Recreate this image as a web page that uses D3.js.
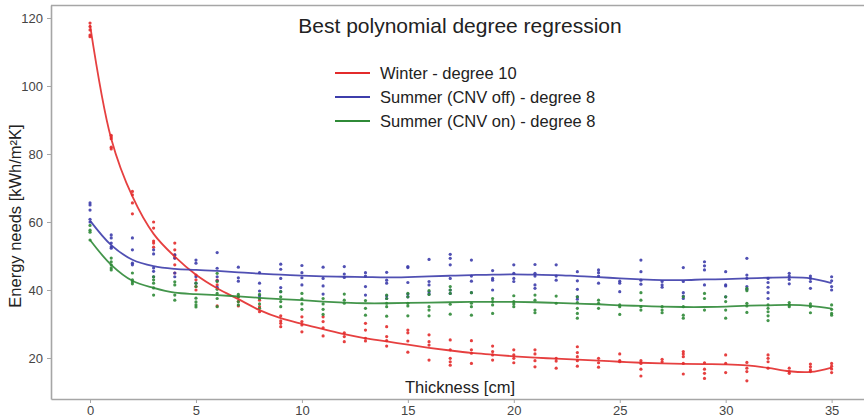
<!DOCTYPE html>
<html><head><meta charset="utf-8">
<script src="https://cdn.jsdelivr.net/npm/d3@7"></script>
<style>
html,body{margin:0;padding:0;background:#fff;}
svg{display:block;font-family:"Liberation Sans",Arial,sans-serif;}
</style></head>
<body>
<svg id="chart" width="864" height="419"></svg>
<script>
const thickness = d3.range(0, 36);
const xTicks = [0, 5, 10, 15, 20, 25, 30, 35];
const yTicks = [20, 40, 60, 80, 100, 120];
const seriesNames = ["Winter - degree 10", "Summer (CNV off) - degree 8", "Summer (CNV on) - degree 8"];
const seriesColors = ["#e32b2b", "#3d3dab", "#2f8a37"];

const winterPts = [
 [118.5,117.5,116.5,115,114.5],[85.5,85,84.5,82,81.5],[69,68,65.6,62.4],[60,58.2,54.4,53.8,52.6],
 [53.8,51.8,50.3,49.4,47.4,45],[44.4,43,41,40],[42.9,41.5,35.3],[38,36.6,35.3],[37,35.1,33.6],
 [32.4,30.9,30.2,29.2],[32.1,30.7,29.7,27.7],[32.1,30.7,28.9,26.5],[27.4,26.3,24.8],[30.2,28.2,25.8,25],
 [29.2,26.3,25.1,23.5],[28.2,27.4,25,21.7],[26.8,24.8,23.8,19.4],[25.3,22.4,19.9,18.9,17.9],
 [25.1,22.4,21.4,18.4],[23.5,21.9,20.9,19.4],[22.4,20.9,19.9,18.6],[22.4,21.2,19.2,17.4],[19.9,19.1,17],
 [23.3,21.6,20.4,19.2,17.6],[19.9,18.6,17.3],[21.2,19.2,18.9],[19.2,18.4,16.7,14.7],[19.6,18.9],
 [21.9,21.2,20.4,18.4,15.3],[18.6,16.7,15.5,14],[20.9,18.4,15.7],[18.7,17,16,13.3],[20.9,19.9,18.9,17],
 [17,16,15.5],[18.2,17.4,16.5,16],[18.4,17.6,16.8,15.7]
];
const winterFit = [118,84.5,67.5,56.5,49.8,44.5,40.5,37.3,34.1,31.7,30,28.5,27,25.8,24.9,23.9,23,22.2,21.5,21,
 20.5,20.1,19.8,19.5,19.2,18.9,18.6,18.4,18.3,18.2,18.1,17.8,17.1,16.1,15.9,17.2];

const summerOffPts = [
 [65.6,65,63.5,60.8,60],[56.2,55.3,53.8,52.7,52.3],[55.3,51.8,47.9,47.4],[51.8,50.6,46.5,45.5,43.9],
 [50.3,49.4,45,43.9],[48.8,47.9,43.9,42],[51,46.4,43.9,42.7,40.8],[46.7,43.6,42.6],[45.1,42,39.7,38.3],
 [47.6,46.1,43.4,40.7,39.5],[47.2,45.1,43.6,41.5],[46.7,43.4,41.2,38.8],[46.9,44.7,43.7],[45.1,44.1,41,38.5],
 [45.2,42.9,42,38.3,37.5],[46.9,46.6,42.2,38.8,38],[49,42.5,41.5,39.5,38.8],[50.5,49.3,47.4,43.4,40,39],
 [48.8,44.1,42.6,39.2],[45.7,43.4,42.9,40],[47.4,44.9,43.4,42.5],[47.5,44.9,44.1,41.5,40.5],[47.4,44.1,42.9],
 [45.4,42.7,40.2,38,37.3],[45.9,45.1,44.1,42],[42.6,42,39.5],[48.8,45.4,42.9,41.7],[42.5,41.5,40.8],
 [46.6,42.5,39.2,38.2,37.5],[48.3,47.1,45.9,41.5],[45.4,41.5,41.2,38],[49.3,44.4,43.4,41,40.2],
 [43.4,42.2,40.8,39.2,37.5],[44.9,44.1,43.1,41.8],[44.1,43.4,42.5,40.5],[43.9,42.7,41,40]
];
const summerOffFit = [60.4,53.2,48.9,47,46.2,45.9,45.6,45.2,44.8,44.5,44.2,44,43.9,43.8,43.7,43.8,44,44.2,44.4,44.5,
 44.6,44.5,44.4,44.1,43.8,43.4,43.1,42.9,42.9,43.1,43.2,43.4,43.6,43.7,43.4,42];

const summerOnPts = [
 [59,57.6,57,54.7],[49.4,48.3,47.4,46.5,45.9],[45,43,42.4,41.8],[43.9,43,42,40.6,38.5],
 [42.4,41.5,38.5,37],[42,41,37.6,36.5,35.6,35],[44.9,42.5,40.2,39,37.5,35.1],[38.7,38,36.6,35.6],
 [38.7,37.5,35.9,34.6],[39.5,38,36.6,35.1],[39,37.4,35.9,34.3],[37.5,35.9,34.3,32.8],[38.8,37,36.1],
 [36.9,34.6,32.6],[38.5,37.5,36.1,35.1,32.3],[39,38,36.1,35.3,32.4],[39.8,38.7,35.1,34.1,32.4],
 [41,40,39,35.8,32.9],[39.2,36.1,35.1,32.6],[37.5,36.6,35.6,33.1],[38.3,36.6,35.9,35.1],[38.5,37,34.1,33.3],
 [38.2,36.1],[38,36.3,34.6,33.1,31.7],[37,36.1,34.6],[35.6,35.1,32.8],[39.2,37,35.1,34.1],[35.1,34.1,33.3],
 [38,35.1,32.6,31.7],[39,37.5,34.1],[38,36.6,34.1,31.7],[40.5,39.8,36.1,35.3,33.4],[35.6,34.6,33.6,32.4,31],
 [36.3,35.6,35.1],[35.9,35.1,33.3],[35.6,34.3,33.1,32.6]
];
const summerOnFit = [54.7,47.4,42.7,40.6,39.2,38.8,38.5,38.1,37.7,37.3,37,36.6,36.3,36.1,36.1,36.2,36.3,36.4,36.5,36.5,
 36.5,36.4,36.2,36,35.8,35.5,35.3,35.1,35,35,35.1,35.4,35.5,35.6,35.3,34.5];

const allPts = [winterPts, summerOffPts, summerOnPts];
const allFits = [winterFit, summerOffFit, summerOnFit];

const svg = d3.select("#chart");
const mLeft = 51, mTop = 5, mBottom = 399, mRight = 874;
const x = d3.scaleLinear().domain([-1.842, 37]).range([mLeft, mRight]);
const y = d3.scaleLinear().domain([7.94, 123.82]).range([mBottom, mTop]);

// frame top line
svg.append("line").attr("x1", mLeft).attr("x2", 864).attr("y1", mTop + 0.5).attr("y2", mTop + 0.5)
  .attr("stroke", "#a6a6a6").attr("stroke-width", 1.6);

const gx = svg.append("g").attr("transform", `translate(0,${mBottom})`)
  .call(d3.axisBottom(x).tickValues(xTicks).tickSize(4).tickSizeOuter(0).tickPadding(3));
const gy = svg.append("g").attr("transform", `translate(${mLeft},0)`)
  .call(d3.axisLeft(y).tickValues(yTicks).tickSize(4).tickSizeOuter(0).tickPadding(4));
[gx, gy].forEach(g => {
  g.select(".domain").attr("stroke", "#a6a6a6").attr("stroke-width", 1.6);
  g.selectAll(".tick line").attr("stroke", "#a6a6a6");
  g.selectAll(".tick text").attr("fill", "#444").attr("font-size", 13)
    .attr("font-family", "'Liberation Sans',Arial,sans-serif");
});

// points
allPts.forEach((pts, si) => {
  const flat = [];
  pts.forEach((vals, i) => vals.forEach(v => flat.push([thickness[i], v])));
  svg.append("g").selectAll("circle").data(flat).join("circle")
    .attr("cx", d => x(d[0])).attr("cy", d => y(d[1])).attr("r", 1.6)
    .attr("fill", seriesColors[si]).attr("opacity", 0.9);
});

// fitted lines
const line = d3.line().x((d, i) => x(thickness[i])).y(d => y(d)).curve(d3.curveCatmullRom);
allFits.forEach((fit, si) => {
  svg.append("path").datum(fit).attr("d", line).attr("fill", "none")
    .attr("stroke", seriesColors[si]).attr("stroke-width", 1.8).attr("opacity", 0.9);
});

// title
svg.append("text").attr("x", 460).attr("y", 33).attr("text-anchor", "middle")
  .attr("font-size", 21).attr("fill", "#222").text("Best polynomial degree regression");

// legend
const legY = [73, 97, 121];
seriesNames.forEach((n, i) => {
  svg.append("line").attr("x1", 335).attr("x2", 370).attr("y1", legY[i]).attr("y2", legY[i])
    .attr("stroke", seriesColors[i]).attr("stroke-width", 2);
  svg.append("text").attr("x", 380).attr("y", legY[i] + 6).attr("font-size", 16.5)
    .attr("fill", "#222").text(n);
});

// axis labels
svg.append("text").attr("x", 460).attr("y", 393).attr("text-anchor", "middle")
  .attr("font-size", 16.5).attr("fill", "#222").text("Thickness [cm]");
svg.append("text").attr("transform", "translate(21,216) rotate(-90)").attr("text-anchor", "middle")
  .attr("font-size", 16.5).attr("fill", "#222").text("Energy needs [kWh/m²K]");
</script>
</body></html>
